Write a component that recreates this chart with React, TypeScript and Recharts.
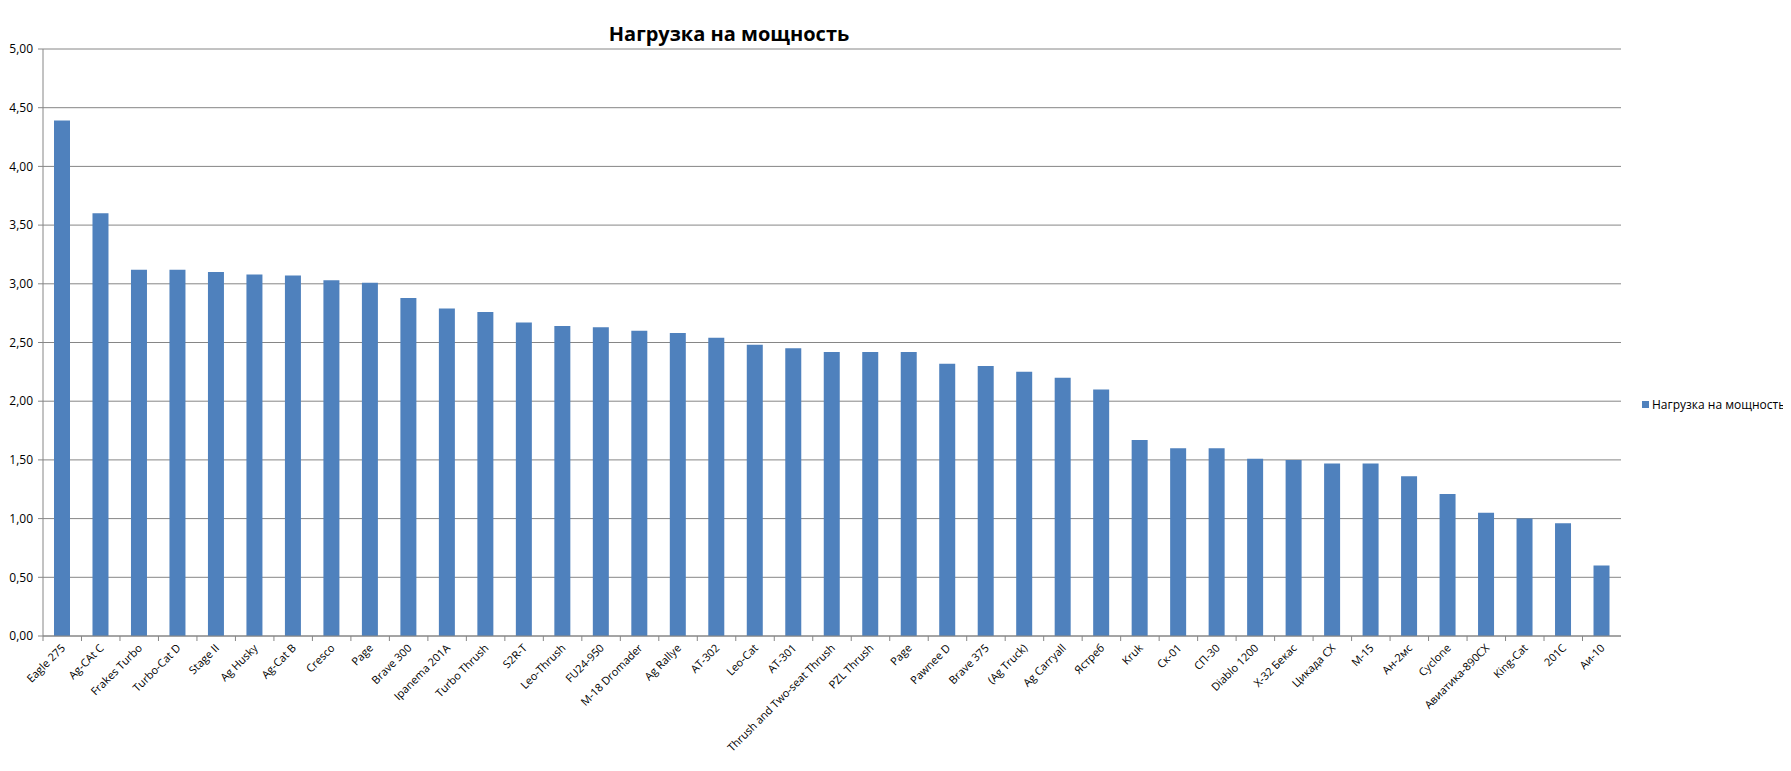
import { BarChart, Bar, XAxis, YAxis, CartesianGrid } from "recharts";

const aircraft = [
  "Eagle 275", "Ag-CAt C", "Frakes Turbo", "Turbo-Cat D", "Stage II", "Ag Husky",
  "Ag-Cat B", "Cresco", "Page", "Brave 300", "Ipanema 201A", "Turbo Thrush",
  "S2R-T", "Leo-Thrush", "FU24-950", "M-18 Dromader", "Ag Rallye", "AT-302",
  "Leo-Cat", "AT-301", "Thrush and Two-seat Thrush", "PZL Thrush", "Page", "Pawnee D",
  "Brave 375", "(Ag Truck)", "Ag Carryall", "Ястреб", "Kruk", "Ск-01",
  "СП-30", "Diablo 1200", "Х-32 Бекас", "Цикада  СХ", "М-15", "Ан-2мс",
  "Cyclone", "Авиатика-890СХ", "King-Cat", "201С", "Аи-10",
];

const powerLoad = [
  4.39, 3.60, 3.12, 3.12, 3.10, 3.08,
  3.07, 3.03, 3.01, 2.88, 2.79, 2.76,
  2.67, 2.64, 2.63, 2.60, 2.58, 2.54,
  2.48, 2.45, 2.42, 2.42, 2.42, 2.32,
  2.30, 2.25, 2.20, 2.10, 1.67, 1.60,
  1.60, 1.51, 1.50, 1.47, 1.47, 1.36,
  1.21, 1.05, 1.00, 0.96, 0.60,
];

const yTicks = [0, 0.5, 1, 1.5, 2, 2.5, 3, 3.5, 4, 4.5, 5];

const seriesName = "Нагрузка на мощность";

const data = aircraft.map((name, i) => ({ name, value: powerLoad[i] }));

const FONT = "'Open Sans', 'DejaVu Sans', sans-serif";
const AXIS = "#868686";

// excel-style: tick marks sit between categories, labels at 45 degrees
const CategoryTick = (props: any) => {
  const { x, y, payload } = props;
  const half = payload.offset ?? 0;
  return (
    <g>
      <line x1={x - half} y1={y - 8} x2={x - half} y2={y - 3} stroke={AXIS} />
      <text
        x={x + 1}
        y={y + 2}
        dy="0.35em"
        textAnchor="end"
        transform={`rotate(-45, ${x + 1}, ${y + 2})`}
        fontSize={11}
        fontFamily={FONT}
        fill="#000"
      >
        {payload.value}
      </text>
    </g>
  );
};

export default function App() {
  return (
    <div style={{ position: "relative", width: 1775, height: 755 }}>
      <svg width={1775} height={40} style={{ position: "absolute", left: 0, top: 0 }}>
        <text x={721} y={33} textAnchor="middle" fontFamily={FONT} fontWeight={700} fontSize={20} fill="#000">
          {seriesName}
        </text>
      </svg>
      <div
        style={{
          position: "absolute",
          left: 1634,
          top: 388,
          height: 16,
          fontFamily: FONT,
          fontSize: 12,
          color: "#000",
          display: "flex",
          alignItems: "center",
          whiteSpace: "nowrap",
        }}
      >
        <span style={{ display: "inline-block", width: 7, height: 7, background: "#4F81BD", marginRight: 3 }} />
        {seriesName}
      </div>
      <BarChart
        width={1775}
        height={755}
        data={data}
        margin={{ top: 41, right: 162, bottom: 0, left: 0 }}
        barSize={16}
        style={{ overflow: "visible" }}
      >
        <CartesianGrid vertical={false} stroke={AXIS} strokeWidth={1} />
        <XAxis
          dataKey="name"
          interval={0}
          height={127}
          axisLine={{ stroke: AXIS }}
          tickLine={false}
          tick={<CategoryTick />}
          allowDuplicatedCategory
        />
        <YAxis
          width={35}
          domain={[0, 5]}
          ticks={yTicks}
          interval={0}
          axisLine={{ stroke: AXIS }}
          tickLine={{ stroke: AXIS }}
          tickSize={5}
          tickMargin={5}
          tickFormatter={(v: number) => v.toFixed(2).replace(".", ",")}
          tick={{ fontSize: 12, fontFamily: FONT, fill: "#000" }}
        />
        <Bar dataKey="value" name={seriesName} fill="#4F81BD" isAnimationActive={false} />
      </BarChart>
    </div>
  );
}
